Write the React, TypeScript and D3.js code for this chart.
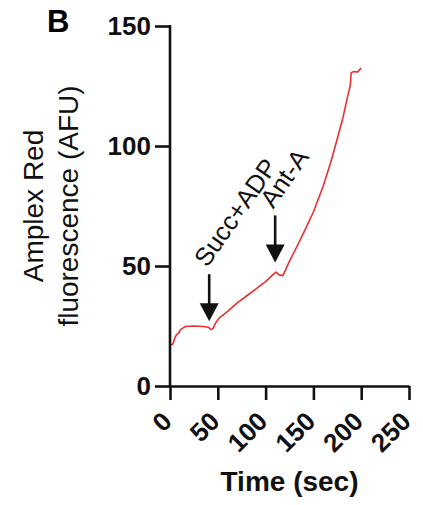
import * as d3 from "d3";
import { useEffect, useRef } from "react";

// Amplex Red trace
const timeSec = [
  0, 3, 5, 7, 9, 11, 13, 16, 25, 35, 40, 43, 45, 48, 52, 60, 70, 80, 90, 100,
  108, 111, 114, 118, 121, 125, 132, 140, 150, 160, 168, 175, 181, 186, 188.5,
  189.5, 192, 196, 200,
];
const fluorescence = [
  17, 17.5, 20, 21.5, 22, 23.5, 24, 24.8, 25, 24.8, 24.5, 23.5, 24, 26.5, 28.5,
  31, 34.5, 37.5, 40.5, 43.5, 46.5, 47.5, 46.3, 46, 48.5, 52, 57.5, 64, 72.5,
  83, 93, 103, 112, 121, 125, 130.5, 131, 130.8, 132.5,
];

const xTicks = [0, 50, 100, 150, 200, 250];
const yTicks = [0, 50, 100, 150];

// additions marked by arrows
const arrowLabels = ["Succ+ADP", "Ant-A"];
const arrowTimes = [41, 110];
const arrowTipValues = [27, 51.5];

const FONT = "'Liberation Sans', Arial, Helvetica, sans-serif";

const AmplexChart = () => {
  const svgRef = useRef<SVGSVGElement>(null);

  useEffect(() => {
    const svg = d3.select(svgRef.current);
    svg.selectAll("*").remove();

    const x = d3.scaleLinear().domain([0, 250]).range([170, 409]);
    const y = d3.scaleLinear().domain([0, 150]).range([386, 26]);

    const data = timeSec.map((t, i) => ({ t, v: fluorescence[i] }));

    // panel letter
    svg
      .append("text")
      .attr("x", 47)
      .attr("y", 32)
      .attr("font-family", FONT)
      .attr("font-weight", "bold")
      .attr("font-size", 31)
      .text("B");

    // trace
    svg
      .append("path")
      .datum(data)
      .attr("fill", "none")
      .attr("stroke", "#e8302f")
      .attr("stroke-width", 1.6)
      .attr("stroke-linejoin", "round")
      .attr(
        "d",
        d3
          .line<{ t: number; v: number }>()
          .x((d) => x(d.t))
          .y((d) => y(d.v))
      );

    // y axis
    const yAxis = svg
      .append("g")
      .attr("transform", `translate(${x(0)},0)`)
      .call(
        d3
          .axisLeft(y)
          .tickValues(yTicks)
          .tickSize(15)
          .tickSizeOuter(0)
          .tickPadding(4)
      );

    // x axis
    const xAxis = svg
      .append("g")
      .attr("transform", `translate(0,${y(0)})`)
      .call(
        d3.axisBottom(x).tickValues(xTicks).tickSize(14).tickSizeOuter(0)
      );

    [yAxis, xAxis].forEach((g) => {
      g.select(".domain").attr("stroke", "#111").attr("stroke-width", 2.6);
      g.selectAll(".tick line").attr("stroke", "#111").attr("stroke-width", 2.6);
      g.selectAll("text")
        .attr("font-family", FONT)
        .attr("font-weight", "bold")
        .attr("font-size", 26)
        .attr("fill", "#111");
    });
    yAxis.select(".domain").attr("d", `M0,${y(0)}V${y(150) - 1}`);

    xAxis
      .selectAll(".tick text")
      .attr("y", null)
      .attr("dy", null)
      .attr("text-anchor", "end")
      .attr("transform", "translate(3,37) rotate(-45)");

    // axis titles
    svg
      .append("text")
      .attr("x", (x(0) + x(250)) / 2)
      .attr("y", 491)
      .attr("text-anchor", "middle")
      .attr("font-family", FONT)
      .attr("font-weight", "bold")
      .attr("font-size", 28)
      .attr("fill", "#111")
      .text("Time (sec)");

    const yMid = (y(0) + y(150)) / 2;
    ["Amplex Red", "fluorescence (AFU)"].forEach((line, i) => {
      svg
        .append("text")
        .attr("transform", `translate(${43 + i * 35},${yMid}) rotate(-90)`)
        .attr("text-anchor", "middle")
        .attr("font-family", FONT)
        .attr("font-size", 28)
        .attr("fill", "#111")
        .text(line);
    });

    // arrows with labels
    arrowLabels.forEach((label, i) => {
      const ax = x(arrowTimes[i]);
      const tip = y(arrowTipValues[i]);
      const top = tip - 47;
      const headH = 18;
      const headW = 19;
      svg
        .append("line")
        .attr("x1", ax)
        .attr("x2", ax)
        .attr("y1", top)
        .attr("y2", tip - headH + 1)
        .attr("stroke", "#111")
        .attr("stroke-width", 2.6);
      svg
        .append("path")
        .attr(
          "d",
          `M${ax - headW / 2},${tip - headH}L${ax + headW / 2},${tip - headH}L${ax},${tip}Z`
        )
        .attr("fill", "#111");
      svg
        .append("text")
        .attr("transform", `translate(${ax - 2},${top - 6}) rotate(-55)`)
        .attr("font-family", FONT)
        .attr("font-size", 25.5)
        .attr("fill", "#111")
        .text(label);
    });
  }, []);

  return (
    <svg
      ref={svgRef}
      width={423}
      height={505}
      style={{ position: "absolute", left: 0, top: 0, background: "#fff" }}
    />
  );
};

export default function App() {
  return <AmplexChart />;
}
